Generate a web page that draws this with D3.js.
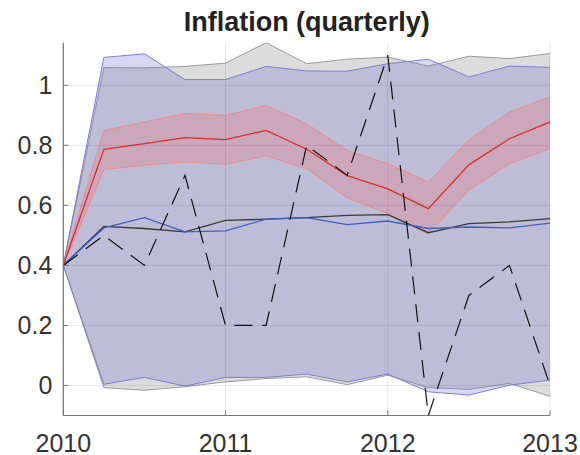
<!DOCTYPE html>
<html><head><meta charset="utf-8">
<script src="https://cdn.jsdelivr.net/npm/d3@7"></script>
<style>
body{margin:0;background:#fff;}
svg{display:block;font-family:"Liberation Sans",Arial,Helvetica,sans-serif;}
</style></head>
<body><svg id="c" width="580" height="455"></svg>
<script>
// quarterly dates 2010.00 ... 2013.00
const dates = [2010,2010.25,2010.5,2010.75,2011,2011.25,2011.5,2011.75,2012,2012.25,2012.5,2012.75,2013];
const actual = [0.4,0.5,0.4,0.7,0.2,0.2,0.8,0.7,1.1,-0.1,0.3,0.4,0.0];
const grayMedian = [0.4,0.530,0.523,0.512,0.550,0.554,0.559,0.567,0.569,0.509,0.539,0.545,0.556];
const grayUpper  = [0.4,1.059,1.058,1.063,1.074,1.142,1.072,1.087,1.094,1.064,1.097,1.089,1.106];
const grayLower  = [0.4,-0.007,-0.016,-0.004,0.012,0.023,0.029,0.003,0.034,-0.007,-0.013,0.007,-0.036];
const blueMedian = [0.4,0.525,0.559,0.512,0.515,0.554,0.559,0.536,0.548,0.523,0.528,0.525,0.541];
const blueUpper  = [0.4,1.093,1.105,1.019,1.019,1.063,1.048,1.047,1.072,1.087,1.028,1.064,1.060];
const blueLower  = [0.4,0.004,0.027,-0.002,0.027,0.027,0.038,0.012,0.038,-0.021,-0.032,0.001,0.018];
const redMedian  = [0.4,0.787,0.806,0.826,0.819,0.850,0.787,0.699,0.655,0.589,0.735,0.822,0.878];
const redUpper   = [0.4,0.850,0.878,0.906,0.900,0.933,0.872,0.783,0.739,0.678,0.819,0.911,0.962];
const redLower   = [0.4,0.719,0.734,0.745,0.737,0.765,0.722,0.625,0.573,0.506,0.650,0.739,0.789];
const xTicks = [2010,2011,2012,2013];
const yTicks = [0,0.2,0.4,0.6,0.8,1];
const title = "Inflation (quarterly)";

const L=63.3, R=550, T=42.7, B=415.5;
const svg = d3.select("#c");
const x = d3.scaleLinear().domain([2010,2013]).range([L,R]);
const y = d3.scaleLinear().domain([-0.1,1.142]).range([B,T]);

svg.append("defs").append("clipPath").attr("id","clip")
  .append("rect").attr("x",L).attr("y",T).attr("width",R-L).attr("height",B-T);
const g = svg.append("g").attr("clip-path","url(#clip)");

const area = (lo,hi)=>d3.area().x((d,i)=>x(dates[i])).y0((d,i)=>y(lo[i])).y1((d,i)=>y(hi[i]))(dates);
const line = (v)=>d3.line().x((d,i)=>x(dates[i])).y((d,i)=>y(v[i]))(dates);

// gray band
g.append("path").attr("d",area(grayLower,grayUpper)).attr("fill","rgb(128,128,128)").attr("fill-opacity",0.28);
g.append("path").attr("d",line(grayUpper)).attr("fill","none").attr("stroke","#9a9a9a").attr("stroke-width",1);
g.append("path").attr("d",line(grayLower)).attr("fill","none").attr("stroke","#9a9a9a").attr("stroke-width",1);
// blue band
g.append("path").attr("d",area(blueLower,blueUpper)).attr("fill","rgb(110,110,205)").attr("fill-opacity",0.28);
g.append("path").attr("d",line(blueUpper)).attr("fill","none").attr("stroke","#7d7dd0").attr("stroke-width",1);
g.append("path").attr("d",line(blueLower)).attr("fill","none").attr("stroke","#7d7dd0").attr("stroke-width",1);
// red band
g.append("path").attr("d",area(redLower,redUpper)).attr("fill","rgb(255,90,90)").attr("fill-opacity",0.22);
g.append("path").attr("d",line(redUpper)).attr("fill","none").attr("stroke","#f08a8a").attr("stroke-width",1);
g.append("path").attr("d",line(redLower)).attr("fill","none").attr("stroke","#f08a8a").attr("stroke-width",1);

// grid
const grid = svg.append("g");
yTicks.forEach(t=>grid.append("line").attr("x1",L).attr("x2",R).attr("y1",y(t)).attr("y2",y(t))
  .attr("stroke","#000").attr("stroke-opacity",0.09).attr("stroke-width",1));
xTicks.forEach(t=>grid.append("line").attr("x1",x(t)).attr("x2",x(t)).attr("y1",T).attr("y2",B)
  .attr("stroke","#000").attr("stroke-opacity",0.09).attr("stroke-width",1));

// lines
g.append("path").attr("d",line(grayMedian)).attr("fill","none").attr("stroke","#3a3a3a").attr("stroke-width",1.3);
g.append("path").attr("d",line(blueMedian)).attr("fill","none").attr("stroke","#3c5fc0").attr("stroke-width",1.3);
g.append("path").attr("d",line(redMedian)).attr("fill","none").attr("stroke","#dd2a2a").attr("stroke-width",1.3);
g.append("path").attr("d",line(actual)).attr("fill","none").attr("stroke","#111").attr("stroke-width",1.2)
  .attr("stroke-dasharray","18,10");

// axes
const ax = svg.append("g");
const axisColor="#777";
ax.append("line").attr("x1",L).attr("x2",L).attr("y1",T).attr("y2",B).attr("stroke",axisColor).attr("stroke-width",1.2);
ax.append("line").attr("x1",L).attr("x2",R).attr("y1",B).attr("y2",B).attr("stroke",axisColor).attr("stroke-width",1.2);
yTicks.forEach(t=>{
  ax.append("line").attr("x1",L).attr("x2",L+5).attr("y1",y(t)).attr("y2",y(t)).attr("stroke",axisColor);
  ax.append("text").attr("x",L-11).attr("y",y(t)).attr("dy","0.36em").attr("text-anchor","end")
    .attr("font-size",25).attr("fill","#333").text(d3.format("")(t));
});
xTicks.forEach(t=>{
  ax.append("line").attr("x1",x(t)).attr("x2",x(t)).attr("y1",B).attr("y2",B-5).attr("stroke",axisColor);
  ax.append("text").attr("x",x(t)).attr("y",B+36).attr("text-anchor","middle")
    .attr("font-size",25).attr("fill","#333").text(d3.format("d")(t));
});
svg.append("text").attr("x",(L+R)/2).attr("y",31).attr("text-anchor","middle")
  .attr("font-size",27).attr("font-weight","bold").attr("fill","#222").text(title);
</script></body></html>
